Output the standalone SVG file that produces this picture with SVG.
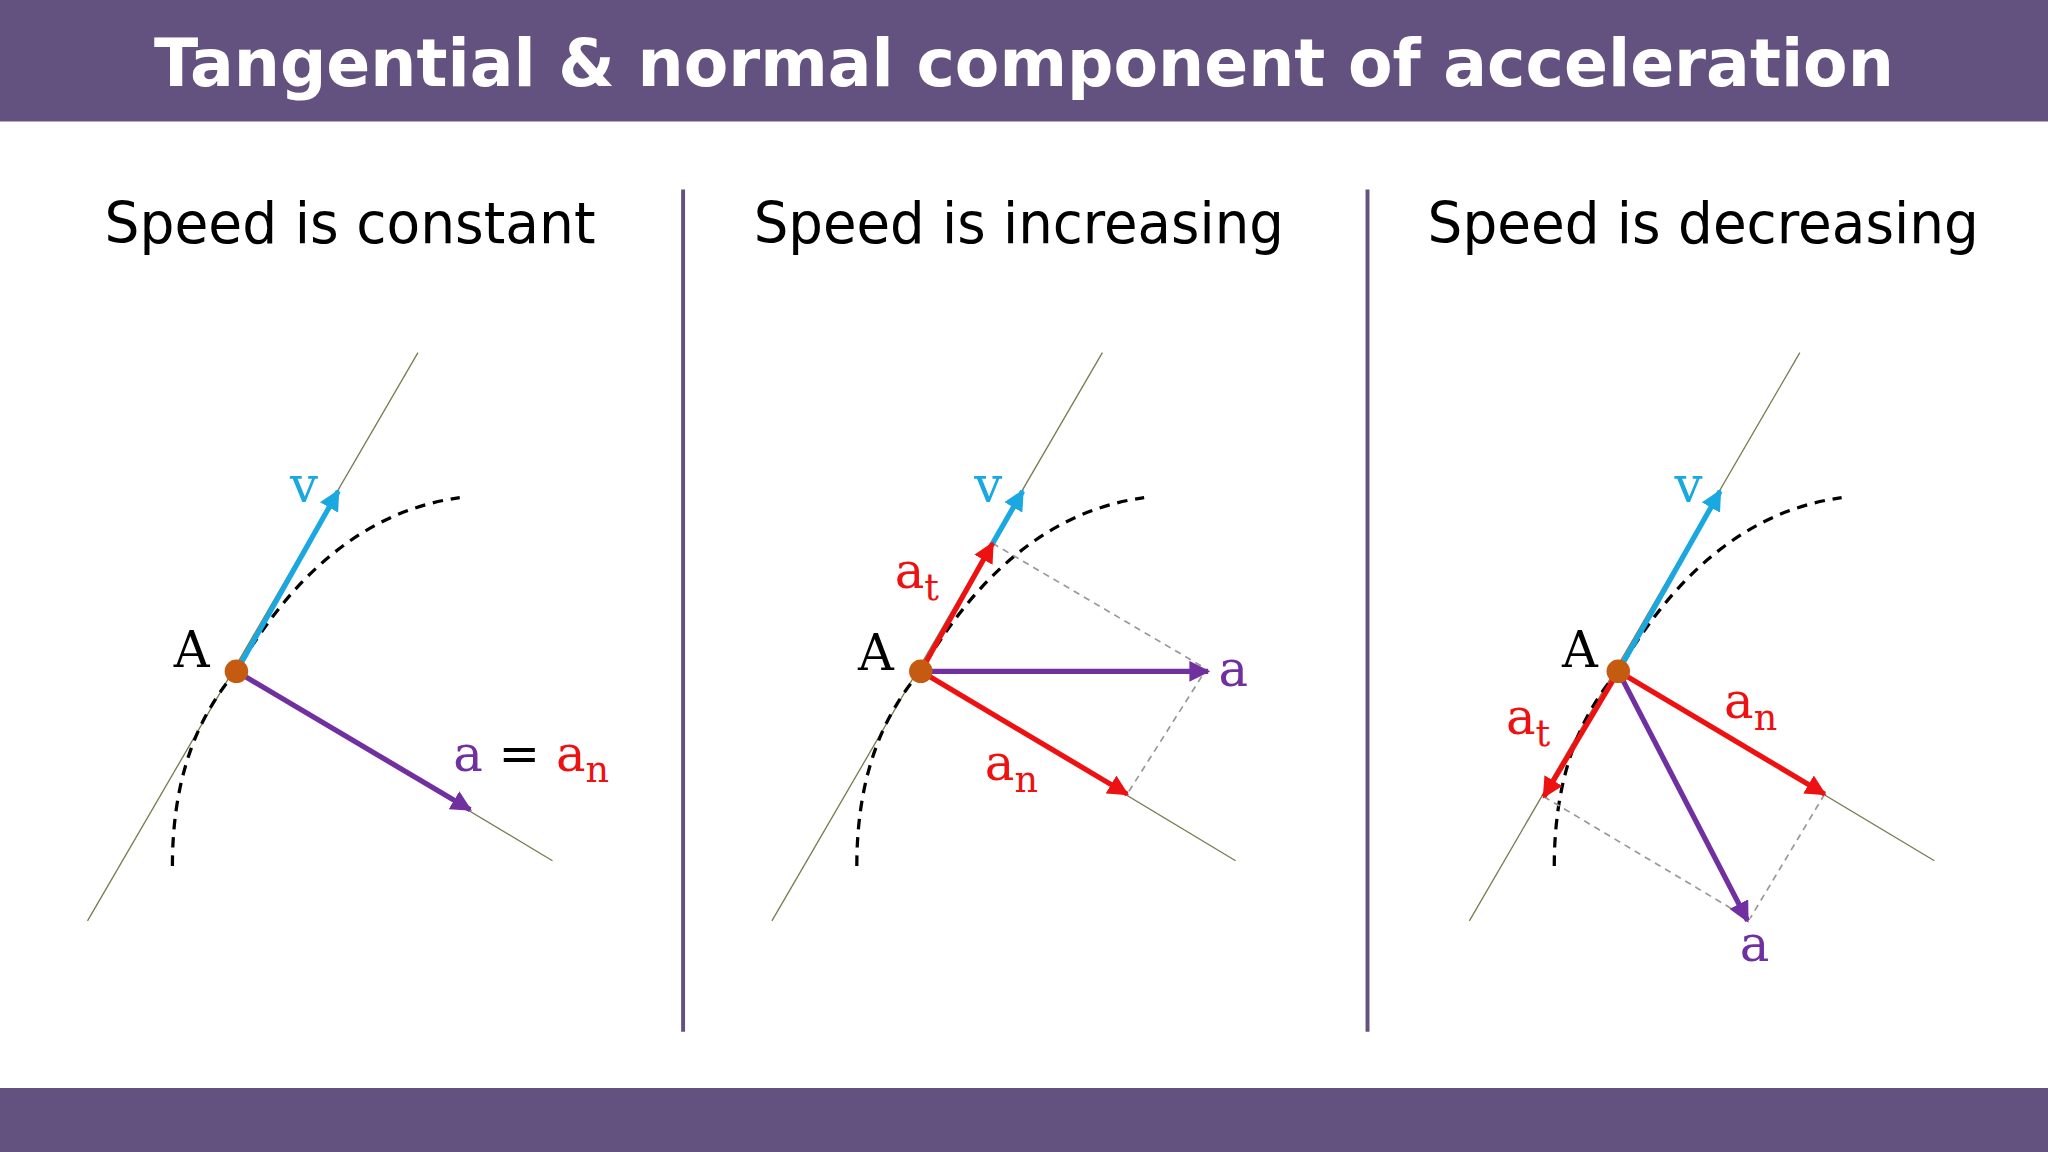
<svg xmlns="http://www.w3.org/2000/svg" width="2048" height="1152" viewBox="0 0 2048 1152">
<style>
.sub{font-family:"DejaVu Sans",sans-serif;font-size:43px;fill:#000;text-anchor:middle}
.tl{stroke:#7a7a50;stroke-width:1;fill:none}
.cv{stroke:#000;stroke-width:2.5;stroke-dasharray:8 6;fill:none}
.gd{stroke:#999;stroke-width:1.3;stroke-dasharray:5 4;fill:none}
.lab{font-family:"DejaVu Serif","Liberation Serif",serif;font-size:38px}
.bl{stroke:#1aa8e0;stroke-width:4;marker-end:url(#mb)}
.rd{stroke:#ee1111;stroke-width:4;marker-end:url(#mr)}
.pu{stroke:#7030a0;stroke-width:4;marker-end:url(#mp)}
</style>
<defs>
<marker id="mb" viewBox="0 0 10 10" refX="9" refY="5" markerWidth="4" markerHeight="4" orient="auto"><path d="M0,0L10,5L0,10z" fill="#1aa8e0"/></marker>
<marker id="mr" viewBox="0 0 10 10" refX="9" refY="5" markerWidth="4" markerHeight="4" orient="auto"><path d="M0,0L10,5L0,10z" fill="#ee1111"/></marker>
<marker id="mp" viewBox="0 0 10 10" refX="9" refY="5" markerWidth="4" markerHeight="4" orient="auto"><path d="M0,0L10,5L0,10z" fill="#7030a0"/></marker>
</defs>
<rect width="2048" height="1152" fill="#fff"/>
<g transform="scale(1.30612)">
<rect x="0" y="0" width="1568" height="93" fill="#635180"/>
<rect x="0" y="833" width="1568" height="49" fill="#635180"/>
<text x="784" y="66" font-family="DejaVu Sans,sans-serif" font-weight="bold" font-size="50" fill="#fff" text-anchor="middle" textLength="1332" lengthAdjust="spacingAndGlyphs">Tangential &amp; normal component of acceleration</text>
<g id="dividers" stroke="#635180" stroke-width="3"><line x1="523" y1="145" x2="523" y2="790"/><line x1="1047" y1="145" x2="1047" y2="790"/></g>
<text class="sub" x="268" y="186" textLength="376" lengthAdjust="spacingAndGlyphs">Speed is constant</text>
<text class="sub" x="780" y="186" textLength="406" lengthAdjust="spacingAndGlyphs">Speed is increasing</text>
<text class="sub" x="1304" y="186" textLength="422" lengthAdjust="spacingAndGlyphs">Speed is decreasing</text>

<g id="panel1">
<line class="tl" x1="67" y1="705" x2="320" y2="270"/>
<line class="tl" x1="181" y1="514" x2="423" y2="659"/>
<path class="cv" d="M132,663 Q132,570 181,514 Q250,395 352,381"/>
<line class="bl" x1="181" y1="514" x2="259" y2="376"/>
<line class="pu" x1="181" y1="514" x2="360" y2="620"/>
<circle cx="181" cy="514" r="9" fill="#c55a11"/>
<text class="lab" x="133" y="511">A</text>
<text class="lab" x="222" y="384" fill="#1aa8e0">v</text>
<text class="lab" x="347" y="590" fill="#7030a0">a <tspan fill="#000">=</tspan> <tspan fill="#ee1111">a<tspan font-size="28" dy="9">n</tspan></tspan></text>
</g>

<g id="panel2" transform="translate(524,0)">
<line class="tl" x1="67" y1="705" x2="320" y2="270"/>
<line class="tl" x1="181" y1="514" x2="422" y2="659"/>
<path class="cv" d="M132,663 Q132,570 181,514 Q250,395 352,381"/>
<line class="gd" x1="236" y1="416" x2="396" y2="510"/>
<line class="gd" x1="396" y1="518" x2="339" y2="608"/>
<line class="bl" x1="236" y1="416" x2="259" y2="376"/>
<line class="rd" x1="181" y1="514" x2="236" y2="416"/>
<line class="pu" x1="181" y1="514" x2="401" y2="514"/>
<line class="rd" x1="181" y1="514" x2="339" y2="608"/>
<circle cx="181" cy="514" r="9" fill="#c55a11"/>
<text class="lab" x="133" y="513">A</text>
<text class="lab" x="222" y="384" fill="#1aa8e0">v</text>
<text class="lab" x="161" y="450" fill="#ee1111">a<tspan font-size="28" dy="9">t</tspan></text>
<text class="lab" x="409" y="525" fill="#7030a0">a</text>
<text class="lab" x="230" y="597" fill="#ee1111">a<tspan font-size="28" dy="9">n</tspan></text>
</g>

<g id="panel3" transform="translate(1058,0)">
<line class="tl" x1="67" y1="705" x2="320" y2="270"/>
<line class="tl" x1="181" y1="514" x2="423" y2="659"/>
<path class="cv" d="M132,663 Q132,570 181,514 Q250,395 352,381"/>
<line class="gd" x1="124" y1="610" x2="280" y2="703"/>
<line class="gd" x1="339" y1="608" x2="282" y2="703"/>
<line class="bl" x1="181" y1="514" x2="259" y2="376"/>
<line class="rd" x1="181" y1="514" x2="124" y2="610"/>
<line class="rd" x1="181" y1="514" x2="339" y2="608"/>
<line class="pu" x1="181" y1="514" x2="280" y2="705"/>
<circle cx="181" cy="514" r="9" fill="#c55a11"/>
<text class="lab" x="138" y="511">A</text>
<text class="lab" x="224" y="384" fill="#1aa8e0">v</text>
<text class="lab" x="95" y="562" fill="#ee1111">a<tspan font-size="28" dy="9">t</tspan></text>
<text class="lab" x="262" y="550" fill="#ee1111">a<tspan font-size="28" dy="9">n</tspan></text>
<text class="lab" x="274" y="736" fill="#7030a0">a</text>
</g>
</g>
</svg>
